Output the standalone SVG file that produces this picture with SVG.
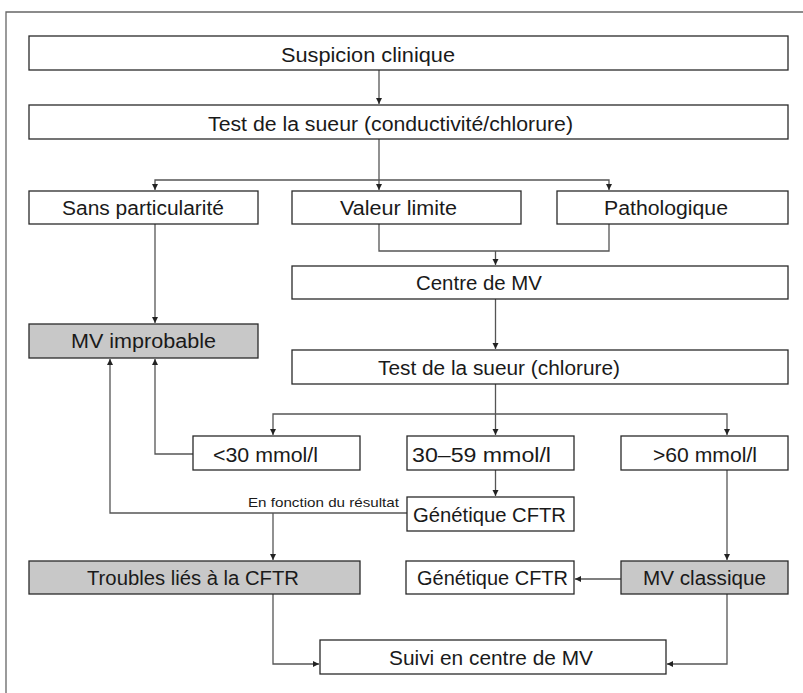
<svg xmlns="http://www.w3.org/2000/svg" width="803" height="693" viewBox="0 0 803 693">
<defs>
<marker id="ah" markerUnits="userSpaceOnUse" markerWidth="8" markerHeight="8" refX="6" refY="3" orient="auto">
<path d="M0,0 L6,3 L0,6 Z" fill="#222"/>
</marker>
<style>
.box{fill:#fff;stroke:#2a2a2a;stroke-width:1.3}
.g{fill:#c8c8c8}
.t{font-family:"Liberation Sans",Arial,sans-serif;font-size:19.5px;fill:#1a1a1a}
.s{font-family:"Liberation Sans",Arial,sans-serif;font-size:13.5px;fill:#1a1a1a}
.c{fill:none;stroke:#555;stroke-width:1.3}
.a{marker-end:url(#ah)}
</style>
</defs>
<rect width="803" height="693" fill="#fff"/>
<path d="M6,693 V12 H803" fill="none" stroke="#666" stroke-width="1.3"/>

<g id="connectors">
<path class="c a" d="M379,70 V104"/>
<path class="c" d="M379,139 V180"/>
<path class="c a" d="M379,180 V190"/>
<path class="c a" d="M379,180 H155 V190"/>
<path class="c a" d="M379,180 H609 V190"/>
<path class="c" d="M379,224 V251 H609 V224"/>
<path class="c a" d="M495.5,251 V265"/>
<path class="c a" d="M155,224 V323"/>
<path class="c a" d="M495.5,299 V349"/>
<path class="c" d="M495.5,384 V414"/>
<path class="c a" d="M495.5,414 V435"/>
<path class="c a" d="M495.5,414 H273 V435"/>
<path class="c a" d="M495.5,414 H727 V435"/>
<path class="c a" d="M193,454 H155 V359"/>
<path class="c a" d="M495.5,470 V496"/>
<path class="c a" d="M407,513 H110 V359"/>
<path class="c a" d="M273,513 V560"/>
<path class="c a" d="M727,470 V560"/>
<path class="c a" d="M621,579 H575"/>
<path class="c a" d="M273,594 V664 H319"/>
<path class="c a" d="M727,594 V664 H667"/>
</g>
<text class="s" x="248" y="507" textLength="151" lengthAdjust="spacingAndGlyphs">En fonction du résultat</text>

<g id="n1"><rect class="box" x="29" y="36" width="759" height="34"/><text class="t" x="281" y="62" textLength="174" lengthAdjust="spacingAndGlyphs">Suspicion clinique</text></g>
<g id="n2"><rect class="box" x="29" y="105" width="759" height="34"/><text class="t" x="208" y="131" textLength="365" lengthAdjust="spacingAndGlyphs">Test de la sueur (conductivité/chlorure)</text></g>
<g id="n3"><rect class="box" x="29" y="191" width="229" height="33"/><text class="t" x="62" y="215" textLength="162" lengthAdjust="spacingAndGlyphs">Sans particularité</text></g>
<g id="n4"><rect class="box" x="292" y="191" width="229" height="33"/><text class="t" x="340" y="215" textLength="117" lengthAdjust="spacingAndGlyphs">Valeur limite</text></g>
<g id="n5"><rect class="box" x="557" y="191" width="231" height="33"/><text class="t" x="604" y="215" textLength="124" lengthAdjust="spacingAndGlyphs">Pathologique</text></g>
<g id="n6"><rect class="box" x="292" y="266" width="496" height="33"/><text class="t" x="416" y="290" textLength="126" lengthAdjust="spacingAndGlyphs">Centre de MV</text></g>
<g id="n7"><rect class="box g" x="29" y="324" width="229" height="34"/><text class="t" x="71" y="348" textLength="145" lengthAdjust="spacingAndGlyphs">MV improbable</text></g>
<g id="n8"><rect class="box" x="292" y="350" width="496" height="34"/><text class="t" x="378" y="375" textLength="242" lengthAdjust="spacingAndGlyphs">Test de la sueur (chlorure)</text></g>
<g id="n9"><rect class="box" x="193" y="436" width="167" height="34"/><text class="t" x="213" y="462" textLength="105" lengthAdjust="spacingAndGlyphs">&lt;30 mmol/l</text></g>
<g id="n10"><rect class="box" x="407" y="436" width="167" height="34"/><text class="t" x="412" y="462" textLength="139" lengthAdjust="spacingAndGlyphs">30–59 mmol/l</text></g>
<g id="n11"><rect class="box" x="621" y="436" width="167" height="34"/><text class="t" x="653" y="462" textLength="104" lengthAdjust="spacingAndGlyphs">&gt;60 mmol/l</text></g>
<g id="n12"><rect class="box" x="407" y="497" width="167" height="34"/><text class="t" x="413" y="522" textLength="153" lengthAdjust="spacingAndGlyphs">Génétique CFTR</text></g>
<g id="n13"><rect class="box g" x="29" y="561" width="331" height="33"/><text class="t" x="87" y="585" textLength="212" lengthAdjust="spacingAndGlyphs">Troubles liés à la CFTR</text></g>
<g id="n14"><rect class="box" x="406" y="561" width="168" height="33"/><text class="t" x="417" y="585" textLength="151" lengthAdjust="spacingAndGlyphs">Génétique CFTR</text></g>
<g id="n15"><rect class="box g" x="621" y="561" width="167" height="33"/><text class="t" x="643" y="585" textLength="123" lengthAdjust="spacingAndGlyphs">MV classique</text></g>
<g id="n16"><rect class="box" x="320" y="640" width="346" height="34"/><text class="t" x="389" y="665" textLength="204" lengthAdjust="spacingAndGlyphs">Suivi en centre de MV</text></g>
</svg>
